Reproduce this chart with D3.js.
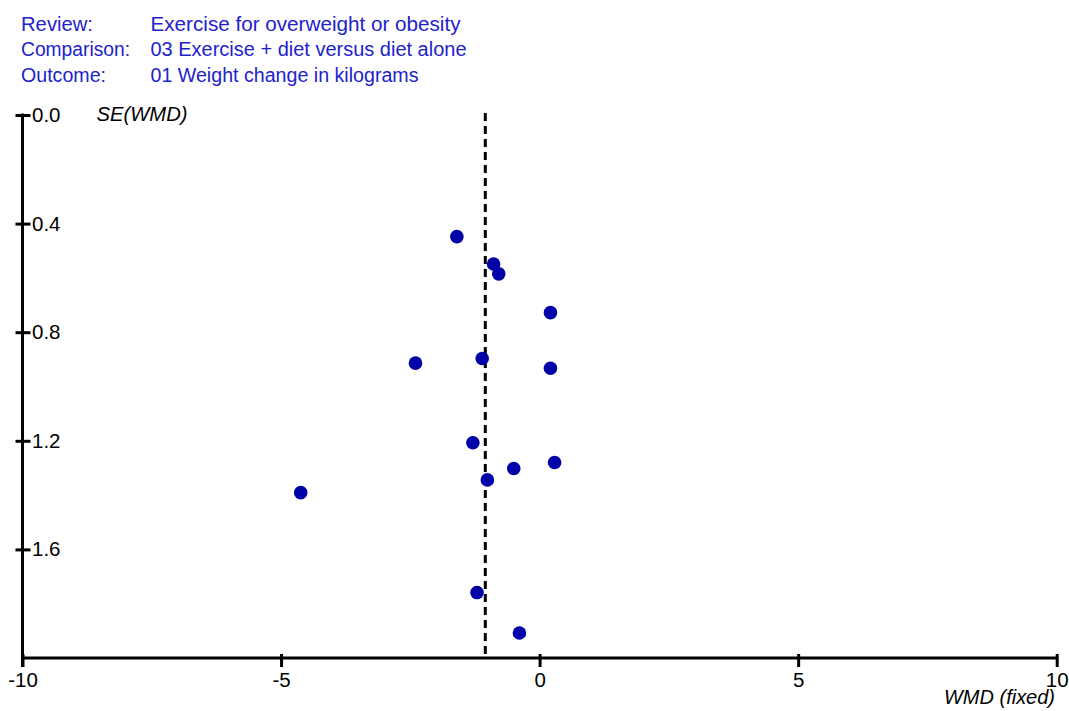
<!DOCTYPE html>
<html>
<head>
<meta charset="utf-8">
<script src="https://cdn.jsdelivr.net/npm/d3@7"></script>
<style>
  html, body { margin: 0; padding: 0; background: #fff; }
  svg { display: block; }
  text { font-family: "Liberation Sans", Arial, sans-serif; }
</style>
</head>
<body>
<svg id="chart" width="1069" height="711"></svg>
<script>
// ---- data ----
const headerLabels = ["Review:", "Comparison:", "Outcome:"];
const headerValues = ["Exercise for overweight or obesity", "03 Exercise + diet versus diet alone", "01 Weight change in kilograms"];
const wmd = [-1.60, -0.89, -0.79, 0.21, -2.40, -1.11, 0.21, -1.29, 0.29, -0.50, -1.01, -4.62, -1.21, -0.39];
const se  = [0.448, 0.549, 0.585, 0.728, 0.914, 0.897, 0.933, 1.207, 1.280, 1.302, 1.344, 1.391, 1.759, 1.908];
const pooledWMD = -1.05;
const xTicks = [-10, -5, 0, 5, 10];
const yTicks = [0.0, 0.4, 0.8, 1.2, 1.6];
const xLabel = "WMD (fixed)";
const yLabel = "SE(WMD)";

// ---- layout ----
const svg = d3.select("#chart");
const x = d3.scaleLinear().domain([-10, 10]).range([22.5, 1056.7]);
const y = d3.scaleLinear().domain([0, 2.0]).range([115, 658]);
const FS = "19.5px";
const labelWidths = [72, 109, 85];
const valueWidths = [310, 316, 268];

// header
const hdr = svg.append("g").attr("fill", "#2222cc").style("font-size", FS);
headerLabels.forEach((t, i) => {
  hdr.append("text").attr("x", 21).attr("y", 30.5 + i * 25.7)
    .attr("textLength", labelWidths[i]).attr("lengthAdjust", "spacingAndGlyphs").text(t);
  hdr.append("text").attr("x", 150.5).attr("y", 30.5 + i * 25.7)
    .attr("textLength", valueWidths[i]).attr("lengthAdjust", "spacingAndGlyphs").text(headerValues[i]);
});

const fmtY = d => d3.format(".1f")(d).replace("\u2212", "-");
const fmtX = d => String(d);

// y axis
const yAxis = svg.append("g").attr("transform", `translate(${x(-10)},0)`)
  .call(d3.axisRight(y).tickValues(yTicks).tickFormat(fmtY).tickSize(8).tickPadding(2));
yAxis.select(".domain").remove();
yAxis.selectAll(".tick line").attr("x1", -7).attr("x2", 8).attr("stroke", "#000").attr("stroke-width", 3);
yAxis.selectAll(".tick text").attr("x", 9.5).attr("fill", "#000").style("font-size", "20.5px")
  .style("font-family", "'Liberation Sans', Arial, sans-serif");
yAxis.append("line").attr("x1", 0).attr("x2", 0).attr("y1", y(0) - 1.5).attr("y2", 667)
  .attr("stroke", "#000").attr("stroke-width", 3);

// x axis
const xAxis = svg.append("g").attr("transform", `translate(0,${y(2.0)})`)
  .call(d3.axisBottom(x).tickValues(xTicks).tickFormat(fmtX).tickSize(9).tickPadding(6));
xAxis.select(".domain").remove();
xAxis.selectAll(".tick line").attr("y1", -4).attr("y2", 9).attr("stroke", "#000").attr("stroke-width", 3);
xAxis.selectAll(".tick text").attr("y", 14).attr("fill", "#000").style("font-size", "20.5px")
  .style("font-family", "'Liberation Sans', Arial, sans-serif");
xAxis.append("line").attr("x1", x(-10)).attr("x2", x(10) + 1.5).attr("y1", 0).attr("y2", 0)
  .attr("stroke", "#000").attr("stroke-width", 3);

// axis titles
svg.append("text").attr("x", 96.5).attr("y", 121).style("font-size", FS).style("font-style", "italic")
  .attr("textLength", 91).attr("lengthAdjust", "spacingAndGlyphs").attr("fill", "#000").text(yLabel);
svg.append("text").attr("x", 944).attr("y", 704).style("font-size", FS)
  .attr("textLength", 111).attr("lengthAdjust", "spacingAndGlyphs")
  .style("font-style", "italic").attr("fill", "#000").text(xLabel);

// pooled estimate dashed line
svg.append("line").attr("x1", x(pooledWMD)).attr("x2", x(pooledWMD)).attr("y1", y(0) - 2).attr("y2", y(2.0))
  .attr("stroke", "#000").attr("stroke-width", 3).attr("stroke-dasharray", "8,5");

// points
svg.append("g").selectAll("circle").data(wmd.map((v, i) => ({ v, s: se[i] }))).join("circle")
  .attr("cx", d => x(d.v)).attr("cy", d => y(d.s)).attr("r", 6.8).attr("fill", "#0000a8");
</script>
</body>
</html>
